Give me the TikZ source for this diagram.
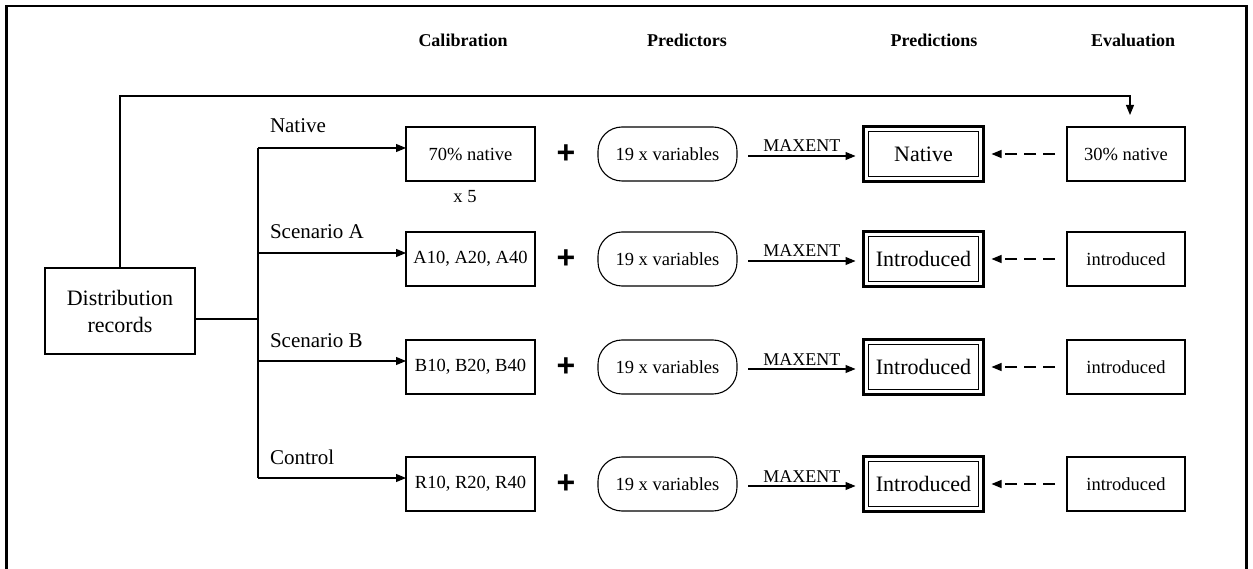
\documentclass[tikz,border=0pt]{standalone}
\usepackage{fontspec}
\setmainfont{Liberation Serif}
\newfontfamily\plusfont{Liberation Sans}
\usetikzlibrary{arrows.meta}
\begin{document}
\begin{tikzpicture}[x=1pt,y=-1pt,
  every node/.style={inner sep=0pt, outer sep=0pt},
  head/.style={font=\fontsize{18}{21}\selectfont\bfseries},
  lab/.style={font=\fontsize{21}{25}\selectfont, anchor=base west},
  calbox/.style={draw, line width=1.1pt, minimum width=129pt, minimum height=54pt, font=\fontsize{18.5}{22}\selectfont},
  pill/.style={draw, line width=1.1pt, rounded corners=24pt, minimum width=139pt, minimum height=54pt, font=\fontsize{18.5}{22}\selectfont},
  predbox/.style={draw, line width=3pt, minimum width=120pt, minimum height=55pt, font=\fontsize{22}{26}\selectfont},
  evbox/.style={draw, line width=1.1pt, minimum width=118pt, minimum height=54pt, font=\fontsize{18.5}{22}\selectfont},
  plus/.style={font=\fontsize{32}{34}\selectfont\plusfont\bfseries},
  arr/.style={line width=1.1pt, -{Triangle[length=10pt,width=8pt]}},
  dasharr/.style={line width=1.1pt, dash pattern=on 12pt off 7pt, -{Triangle[length=10pt,width=8pt]}},
  ln/.style={line width=1.1pt}
]
\useasboundingbox (0,0) rectangle (1253,569);
% frame (open at the bottom)
\draw[line width=2.6pt] (6.5,569) -- (6.5,6) -- (1246.5,6) -- (1246.5,569);

% headings
\node[head] (hc) at (463,40) {Calibration};
\node[head] (hp) at (687,40) {Predictors};
\node[head] (hs) at (934,40) {Predictions};
\node[head] (he) at (1133,40) {Evaluation};

% distribution records
\node[draw, line width=2.2pt, minimum width=150pt, minimum height=86pt, align=center,
      font=\fontsize{22}{27}\selectfont] (dist) at (120,311) {Distribution\\records};

% rows
\foreach \i/\y/\txt/\ev/\pr in {1/154/70\% native/30\% native/Native,
                                2/259/{A10, A20, A40}/introduced/Introduced,
                                3/367/{B10, B20, B40}/introduced/Introduced,
                                4/484/{R10, R20, R40}/introduced/Introduced}{
  \node[calbox] (c\i) at (470.5,\y) {\txt};
  \node[plus] (plus\i) at (566,\y) {+};
  \node[pill] (v\i) at (667.5,\y) {19 x variables};
  \node[predbox] (p\i) at (923.5,\y) {\pr};
  \node[evbox] (e\i) at (1126,\y) {\ev};
  \draw[line width=1pt] ([shift={(5pt,-5pt)}]p\i.north west) rectangle ([shift={(-5pt,5pt)}]p\i.south east);
  \draw[arr] ([xshift=11pt,yshift=-2pt]v\i.east) -- node[above=4pt, font=\fontsize{18}{22}\selectfont] {MAXENT} ([xshift=-8pt,yshift=-2pt]p\i.west);
  \draw[dasharr] ([xshift=-12pt]e\i.west) -- ([xshift=8pt]p\i.east);
}
\node[font=\fontsize{18.5}{22}\selectfont] (x5) at (465,197) {x 5};

% bus and branches
\coordinate (bus) at (258,319);
\draw[ln] ([yshift=-8pt]dist.east) -- (bus);
\draw[ln] ([yshift=6pt]c1.west -| bus) -- ([yshift=6pt]c4.west -| bus);
\foreach \i in {1,2,3,4}{
  \draw[arr] ([yshift=6pt]c\i.west -| bus) -- ([yshift=6pt]c\i.west);
}
\node[lab] (l1) at (270,133) {Native};
\node[lab] (l2) at (270,239) {Scenario A};
\node[lab] (l3) at (270,347) {Scenario B};
\node[lab] (l4) at (270,464) {Control};

% top connector to evaluation
\coordinate (evtop) at (1130,115);
\draw[arr] (dist.north) |- (1130,96) -- (evtop);
\end{tikzpicture}
\end{document}
